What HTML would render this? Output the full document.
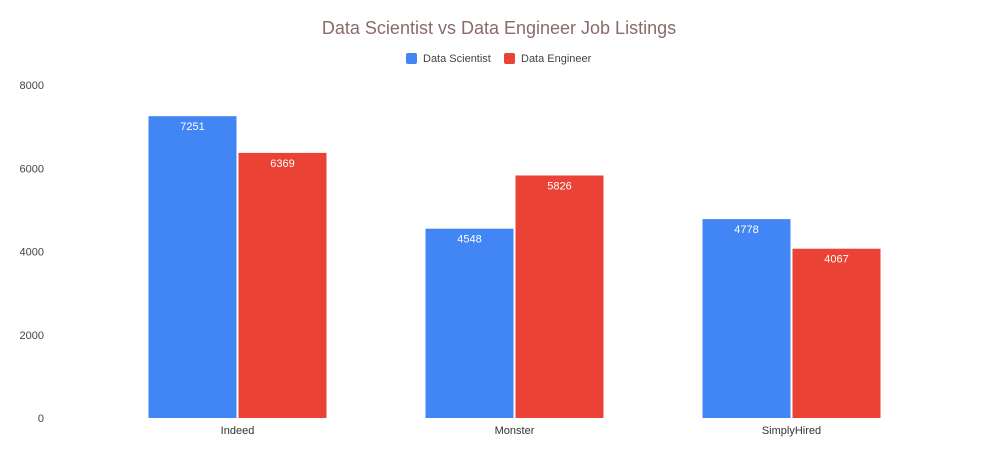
<!DOCTYPE html>
<html><head><meta charset="utf-8"><style>
body{margin:0;background:#fff;font-family:"Liberation Sans",Arial,sans-serif}
svg{display:block}
</style></head><body>
<svg width="998" height="454" id="chart">
<text x="499" y="34" text-anchor="middle" font-size="18" fill="#8a6a6a">Data Scientist vs Data Engineer Job Listings</text>
<g>
<rect x="406" y="53" width="11" height="11" rx="2" fill="#4285f4"/>
<text x="423" y="62" font-size="11" fill="#444">Data Scientist</text>
<rect x="504" y="53" width="11" height="11" rx="2" fill="#ea4335"/>
<text x="521" y="62" font-size="11" fill="#444">Data Engineer</text>
</g>
<g id="axes"></g>
<g id="bars"></g>
</svg>
<script>
const categories = ["Indeed", "Monster", "SimplyHired"];
const scientist = [7251, 4548, 4778];
const engineer = [6369, 5826, 4067];
const yTicks = [0, 2000, 4000, 6000, 8000];

const NS = "http://www.w3.org/2000/svg";
const plotL = 99, plotR = 930, y0 = 418, yTop = 85, yMax = 8000;
const yScale = v => y0 - v / yMax * (y0 - yTop);
const band = (plotR - plotL) / categories.length;
const xCenter = i => plotL + band * (i + 0.5);
const barW = 88, gap = 2;
const axes = document.getElementById("axes");
const bars = document.getElementById("bars");
function mk(tag, attrs, parent) {
  const e = document.createElementNS(NS, tag);
  for (const k in attrs) e.setAttribute(k, attrs[k]);
  parent.appendChild(e);
  return e;
}
yTicks.forEach(t => {
  const tx = mk("text", {x: 44, y: yScale(t) + 4, "text-anchor": "end", "font-size": 11, fill: "#444"}, axes);
  tx.textContent = t;
  
  
});
categories.forEach((c, i) => {
  const tx = mk("text", {x: xCenter(i), y: 434, "text-anchor": "middle", "font-size": 11, fill: "#333"}, axes);
  tx.textContent = c;
  
  
});
const series = [[scientist, "#4285f4", -1], [engineer, "#ea4335", 1]];
categories.forEach((c, i) => {
  series.forEach(([vals, col, side]) => {
    const v = vals[i];
    const x = side < 0 ? xCenter(i) - gap / 2 - barW : xCenter(i) + gap / 2;
    const y = yScale(v);
    const r = mk("rect", {x: x, y: y, width: barW, height: y0 - y, fill: col}, bars);
    
    
    const lb = mk("text", {x: x + barW / 2, y: y + 14, "text-anchor": "middle", "font-size": 11, fill: "#fff"}, bars);
    lb.textContent = v;
    
    
  });
});
</script>
</body></html>
